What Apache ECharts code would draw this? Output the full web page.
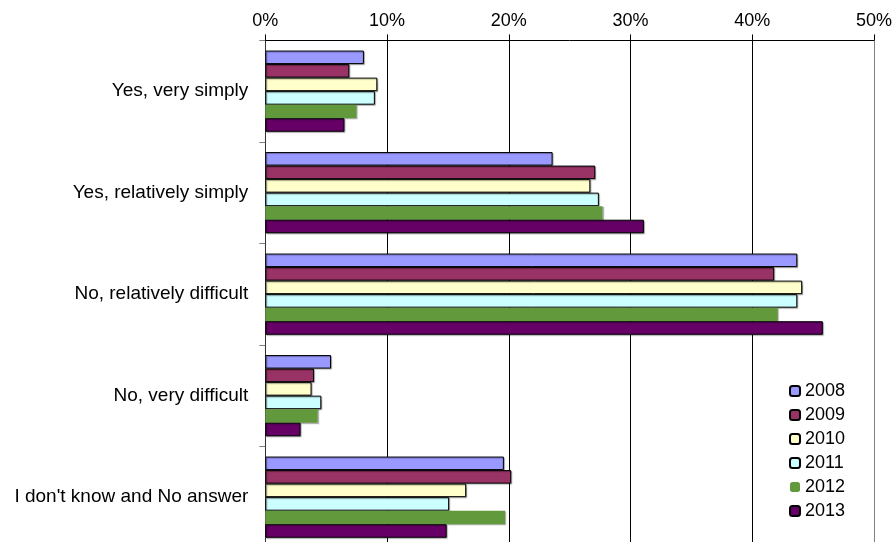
<!DOCTYPE html>
<html>
<head>
<meta charset="utf-8">
<script src="https://cdn.jsdelivr.net/npm/echarts@6/dist/echarts.min.js"></script>
<style>
html,body{margin:0;padding:0;background:#fff;overflow:hidden;width:895px;height:542px;}
#chart{width:895px;height:560px;}
</style>
</head>
<body>
<div id="chart"></div>
<script>
const categories = ["Yes, very simply", "Yes, relatively simply", "No, relatively difficult", "No, very difficult", "I don't know and No answer"];
const years = ["2008", "2009", "2010", "2011", "2012", "2013"];
const v2008 = [8.1, 23.6, 43.7, 5.4, 19.6];
const v2009 = [6.9, 27.1, 41.8, 4.0, 20.2];
const v2010 = [9.2, 26.7, 44.1, 3.8, 16.5];
const v2011 = [9.0, 27.4, 43.7, 4.6, 15.1];
const v2012 = [7.5, 27.7, 42.1, 4.3, 19.7];
const v2013 = [6.5, 31.1, 45.8, 2.9, 14.9];
const xTicks = [0, 10, 20, 30, 40, 50];

const seriesValues = [v2008, v2009, v2010, v2011, v2012, v2013];
const colors = ["#9999FF", "#993366", "#FFFFCC", "#CCFFFF", "#63993D", "#660066"];
const FONT = "'Liberation Sans', Arial, sans-serif";

const chart = echarts.init(document.getElementById('chart'), null, {renderer: 'canvas'});
chart.setOption({
  animation: false,
  backgroundColor: '#fff',
  textStyle: {fontFamily: FONT},
  grid: {left: 265.3, right: 19.2, top: 40.4, height: 507.5, containLabel: false},
  xAxis: {
    type: 'value', position: 'top',
    min: xTicks[0], max: xTicks[xTicks.length - 1], interval: 10,
    axisLine: {show: true, lineStyle: {color: '#000', width: 1}},
    axisTick: {show: true, inside: false, length: 6, lineStyle: {color: '#000'}},
    axisLabel: {formatter: '{value}%', color: '#000', fontSize: 18, fontFamily: FONT, margin: 10},
    splitLine: {show: true, lineStyle: {color: ['#000', '#000', '#000', '#000', '#000', '#808080'], width: 1}}
  },
  yAxis: {
    type: 'category', data: categories, inverse: true,
    axisLine: {show: true, lineStyle: {color: '#333', width: 1}},
    axisTick: {show: true, inside: false, length: 6, lineStyle: {color: '#808080'}},
    axisLabel: {color: '#000', fontSize: 19, fontFamily: FONT, margin: 17}
  },
  legend: {
    orient: 'vertical', left: 789, top: 382, padding: 0,
    itemWidth: 10, itemHeight: 10, itemGap: 6,
    textStyle: {color: '#000', fontSize: 18, fontFamily: FONT},
    data: years
  },
  series: years.map((y, i) => ({
    name: y, type: 'bar', data: seriesValues[i],
    barGap: '0%', barCategoryGap: '20%',
    itemStyle: {
      color: colors[i],
      borderColor: i === 4 ? colors[i] : '#000',
      borderWidth: i === 4 ? 0 : 1,
      shadowColor: 'rgba(0,0,0,0.3)', shadowOffsetX: 1, shadowOffsetY: 1, shadowBlur: 1
    }
  }))
});
</script>
</body>
</html>
